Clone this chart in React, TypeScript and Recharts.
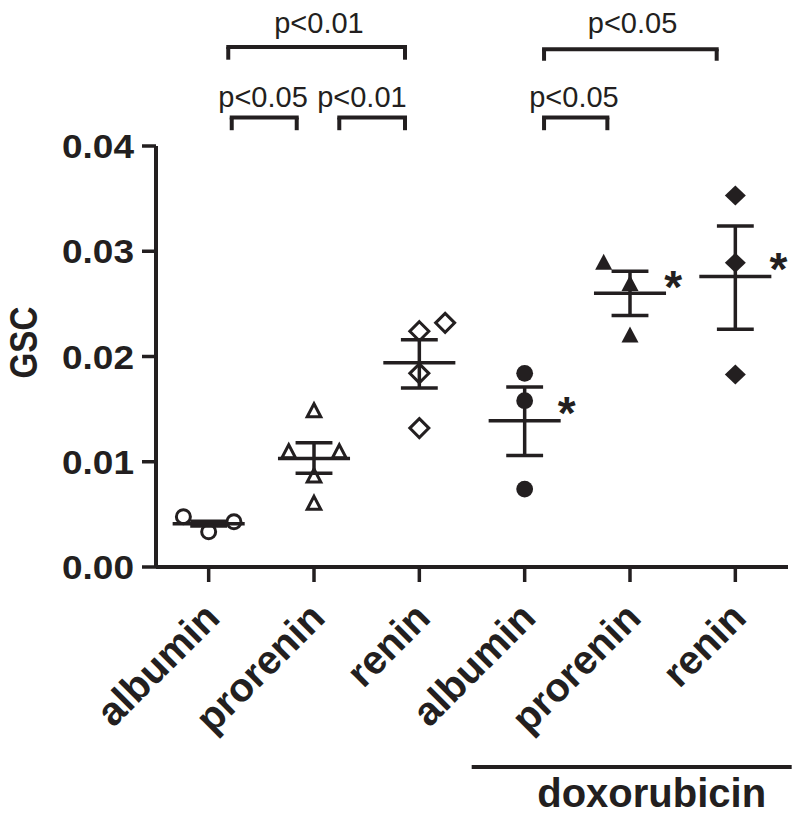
import { ScatterChart, Scatter, XAxis, YAxis, ReferenceLine, ReferenceDot } from 'recharts';

const INK = '#231f20';
const FONT = '"Liberation Sans", Arial, Helvetica, sans-serif';

// x categories, the last three are the doxorubicin groups
const categories = ['albumin', 'prorenin', 'renin', 'albumin', 'prorenin', 'renin'];
const xTicks = [0, 1, 2, 3, 4, 5];
const yTicks = [0, 0.01, 0.02, 0.03, 0.04];

// individual GSC values, with the horizontal slot of each point inside its group
const albuminValues = [0.00478, 0.00335, 0.0043];
const albuminSlots = [-0.24, 0, 0.24];
const proreninValues = [0.0148, 0.0109, 0.0109, 0.0086, 0.006];
const proreninSlots = [0, -0.24, 0.24, 0, 0];
const reninValues = [0.0224, 0.0232, 0.0184, 0.0132];
const reninSlots = [0, 0.245, 0, 0];
const doxAlbuminValues = [0.0184, 0.0158, 0.0074];
const doxAlbuminSlots = [0, 0, 0];
const doxProreninValues = [0.0289, 0.0269, 0.022];
const doxProreninSlots = [-0.25, 0, 0];
const doxReninValues = [0.0353, 0.0289, 0.0183];
const doxReninSlots = [0, 0, 0];

// mean and SEM bar ends per group
const groupMean = [0.00412, 0.0103, 0.0194, 0.0139, 0.026, 0.0276];
const semHigh = [0.00435, 0.0118, 0.0216, 0.0171, 0.0281, 0.0324];
const semLow = [0.0039, 0.0089, 0.017, 0.0106, 0.0239, 0.0226];

// asterisks next to the doxorubicin groups
const starX = [3.4, 4.41, 5.41];
const starY = [0.0156, 0.0276, 0.0293];

// comparison brackets above the plot
const bracketText = ['p<0.01', 'p<0.05', 'p<0.01', 'p<0.05', 'p<0.05'];
const bracketFrom = [0.186, 0.219, 1.24, 3.184, 3.184];
const bracketTo = [1.864, 0.836, 1.864, 4.823, 3.785];
const bracketTop = [0.0494, 0.0427, 0.0427, 0.0492, 0.0427];
const bracketFoot = [0.0482, 0.0415, 0.0415, 0.0481, 0.0415];
const bracketTextX = [1.047, 0.516, 1.455, 4.024, 3.468];
const bracketTextY = [0.0507, 0.0437, 0.0437, 0.0507, 0.0437];

// "doxorubicin" bar under the axis labels
const doxSpan = [2.497, 5.535];
const doxLevel = -0.019;
const doxTextX = 4.206;
const doxTextY = -0.0228;

const toPoints = (values: number[], slots: number[], group: number) =>
  values.map((v, i) => ({ x: group + slots[i], y: v }));

const groups = [
  { kind: 'openCircle', data: toPoints(albuminValues, albuminSlots, 0) },
  { kind: 'openTriangle', data: toPoints(proreninValues, proreninSlots, 1) },
  { kind: 'openDiamond', data: toPoints(reninValues, reninSlots, 2) },
  { kind: 'circle', data: toPoints(doxAlbuminValues, doxAlbuminSlots, 3) },
  { kind: 'triangle', data: toPoints(doxProreninValues, doxProreninSlots, 4) },
  { kind: 'diamond', data: toPoints(doxReninValues, doxReninSlots, 5) },
];

const starData = starX.map((x, i) => ({ x, y: starY[i] }));

function Marker({ cx, cy, kind }: { cx?: number; cy?: number; kind: string }) {
  if (cx == null || cy == null) return null;
  const open = { fill: 'none', stroke: INK, strokeWidth: 3 };
  switch (kind) {
    case 'openCircle':
      return <circle cx={cx} cy={cy} r={7} {...open} />;
    case 'openTriangle':
      return <path d={`M${cx},${cy - 7.5}L${cx + 6.8},${cy + 5.5}L${cx - 6.8},${cy + 5.5}Z`} {...open} />;
    case 'openDiamond':
      return <path d={`M${cx},${cy - 9.5}L${cx + 9.5},${cy}L${cx},${cy + 9.5}L${cx - 9.5},${cy}Z`} {...open} />;
    case 'circle':
      return <circle cx={cx} cy={cy} r={8.4} fill={INK} />;
    case 'triangle':
      return <path d={`M${cx},${cy - 9}L${cx + 8.5},${cy + 7}L${cx - 8.5},${cy + 7}Z`} fill={INK} />;
    default:
      return <path d={`M${cx},${cy - 10}L${cx + 10.5},${cy}L${cx},${cy + 10}L${cx - 10.5},${cy}Z`} fill={INK} />;
  }
}

function Star({ cx, cy }: any) {
  return (
    <text x={cx} y={cy} dy="0.58em" textAnchor="middle" fontFamily={FONT} fontWeight="bold" fontSize={46} fill={INK}>
      *
    </text>
  );
}

function YTick({ x, y, payload }: any) {
  return (
    <text
      x={x}
      y={y}
      dy="0.355em"
      textAnchor="end"
      fontFamily={FONT}
      fontWeight="bold"
      fontSize={34}
      fill={INK}
      textLength={72}
      lengthAdjust="spacingAndGlyphs"
    >
      {Number(payload.value).toFixed(2)}
    </text>
  );
}

function XTick({ x, y, payload }: any) {
  return (
    <text
      transform={`translate(${x + 13},${y + 38}) rotate(-45)`}
      textAnchor="end"
      fontFamily={FONT}
      fontWeight="bold"
      fontSize={40}
      fill={INK}
    >
      {categories[payload.value]}
    </text>
  );
}

const renderGsc = (props: any) => {
  const vb = props?.viewBox ?? { x: 0, y: 146, width: 156, height: 421 };
  const cx = vb.x + 37;
  const cy = vb.y + vb.height / 2 - 14;
  return (
    <text
      x={cx}
      y={cy}
      transform={`rotate(-90 ${cx} ${cy})`}
      textAnchor="middle"
      fontFamily={FONT}
      fontWeight="bold"
      fontSize={38}
      fill={INK}
      textLength={72}
      lengthAdjust="spacingAndGlyphs"
    >
      GSC
    </text>
  );
};

const seg = (x1: number, y1: number, x2: number, y2: number) => [
  { x: x1, y: y1 },
  { x: x2, y: y2 },
];

export default function App() {
  return (
    <div style={{ position: 'absolute', left: 0, top: 0, background: '#fff' }}>
      <ScatterChart width={800} height={816} margin={{ top: 146, right: 12, bottom: 0, left: 0 }}>
        <XAxis
          type="number"
          dataKey="x"
          domain={[-0.5, 5.5]}
          ticks={xTicks}
          interval={0}
          height={249}
          axisLine={{ stroke: INK, strokeWidth: 4 }}
          tickLine={{ stroke: INK, strokeWidth: 3.5 }}
          tickSize={15}
          tickMargin={0}
          tick={<XTick />}
        />
        <YAxis
          type="number"
          dataKey="y"
          domain={[0, 0.04]}
          ticks={yTicks}
          interval={0}
          width={156}
          axisLine={{ stroke: INK, strokeWidth: 4 }}
          tickLine={{ stroke: INK, strokeWidth: 3.5 }}
          tickSize={14}
          tickMargin={8}
          tick={<YTick />}
          label={renderGsc}
        />

        {/* mean and SEM */}
        {groupMean.map((m, i) => (
          <ReferenceLine key={`m${i}`} segment={seg(i - 0.342, m, i + 0.342, m)} stroke={INK} strokeWidth={3.5} ifOverflow="visible" />
        ))}
        {groupMean.map((_, i) => (
          <ReferenceLine key={`v${i}`} segment={seg(i, semLow[i], i, semHigh[i])} stroke={INK} strokeWidth={3.5} ifOverflow="visible" />
        ))}
        {semHigh.map((h, i) => (
          <ReferenceLine key={`h${i}`} segment={seg(i - 0.175, h, i + 0.175, h)} stroke={INK} strokeWidth={3.5} ifOverflow="visible" />
        ))}
        {semLow.map((l, i) => (
          <ReferenceLine key={`l${i}`} segment={seg(i - 0.175, l, i + 0.175, l)} stroke={INK} strokeWidth={3.5} ifOverflow="visible" />
        ))}

        {/* brackets */}
        {bracketText.map((_, i) => (
          <ReferenceLine
            key={`bt${i}`}
            segment={seg(bracketFrom[i], bracketTop[i], bracketTo[i], bracketTop[i])}
            stroke={INK}
            strokeWidth={4}
            strokeLinecap="square"
            ifOverflow="visible"
          />
        ))}
        {bracketText.map((_, i) => (
          <ReferenceLine
            key={`bl${i}`}
            segment={seg(bracketFrom[i], bracketTop[i], bracketFrom[i], bracketFoot[i])}
            stroke={INK}
            strokeWidth={4}
            ifOverflow="visible"
          />
        ))}
        {bracketText.map((_, i) => (
          <ReferenceLine
            key={`br${i}`}
            segment={seg(bracketTo[i], bracketTop[i], bracketTo[i], bracketFoot[i])}
            stroke={INK}
            strokeWidth={4}
            ifOverflow="visible"
          />
        ))}
        {bracketText.map((t, i) => (
          <ReferenceDot
            key={`bx${i}`}
            x={bracketTextX[i]}
            y={bracketTextY[i]}
            ifOverflow="visible"
            shape={(p: any) => (
              <text x={p.cx} y={p.cy} textAnchor="middle" fontFamily={FONT} fontSize={29} fill={INK}>
                {t}
              </text>
            )}
          />
        ))}

        {/* doxorubicin bar */}
        <ReferenceLine segment={seg(doxSpan[0], doxLevel, doxSpan[1], doxLevel)} stroke={INK} strokeWidth={4} ifOverflow="visible" />
        <ReferenceDot
          x={doxTextX}
          y={doxTextY}
          ifOverflow="visible"
          shape={(p: any) => (
            <text x={p.cx} y={p.cy} textAnchor="middle" fontFamily={FONT} fontWeight="bold" fontSize={40} fill={INK}>
              doxorubicin
            </text>
          )}
        />

        {groups.map((g, i) => (
          <Scatter
            key={`s${i}`}
            data={g.data}
            isAnimationActive={false}
            shape={(p: any) => <Marker cx={p.cx} cy={p.cy} kind={g.kind} />}
          />
        ))}
        <Scatter data={starData} isAnimationActive={false} shape={(p: any) => <Star cx={p.cx} cy={p.cy} />} />
      </ScatterChart>
    </div>
  );
}
